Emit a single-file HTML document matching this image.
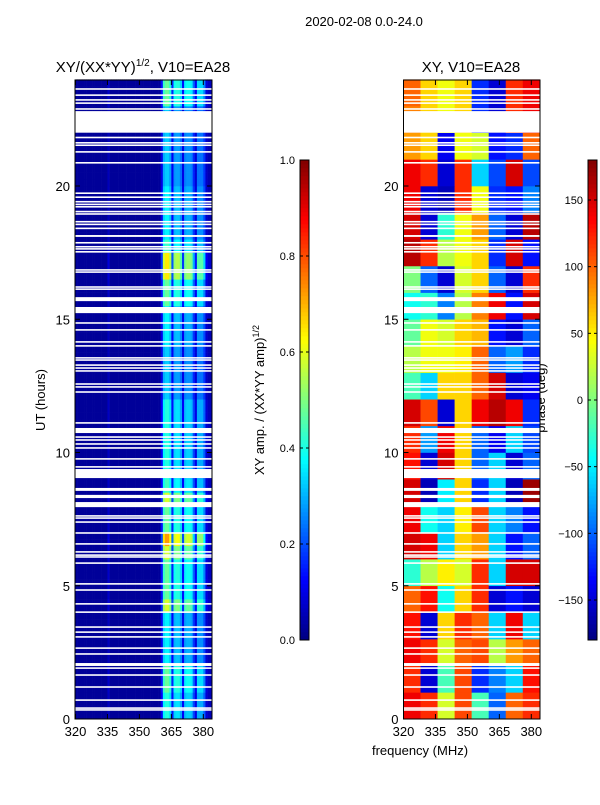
<!DOCTYPE html>
<html><head><meta charset="utf-8"><style>
body{margin:0;background:#fff;width:600px;height:800px;overflow:hidden}
svg text{font-family:"Liberation Sans","DejaVu Sans",sans-serif;fill:#000}
</style></head><body>
<svg id="fig" width="600" height="800" viewBox="0 0 600 800" xmlns="http://www.w3.org/2000/svg">
<rect width="600" height="800" fill="#fff"/>
<text x="364" y="26" font-size="13" text-anchor="middle">2020-02-08 0.0-24.0</text>
<text x="143" y="72" font-size="15" text-anchor="middle">XY/(XX*YY)<tspan font-size="10" dy="-6">1/2</tspan><tspan dy="6">, V10=EA28</tspan></text>
<text x="471" y="72" font-size="15" text-anchor="middle">XY, V10=EA28</text>
<text x="420" y="755" font-size="13" text-anchor="middle">frequency (MHz)</text>
<text transform="translate(45,400) rotate(-90)" font-size="13" text-anchor="middle">UT (hours)</text>
<text transform="translate(264,400) rotate(-90)" font-size="13" text-anchor="middle">XY amp. / (XX*YY amp)<tspan font-size="9" dy="-5">1/2</tspan></text>
<text transform="translate(545,398) rotate(-90)" font-size="13" text-anchor="middle">phase (deg)</text>
<g id="left"></g>
<g id="right"></g>
<g id="axes"></g>
</svg>
<script>
// ---- data ----
const hourTicks=[0,5,10,15,20];
const freqTicks=[320,335,350,365,380];
const ampTicks=[0.0,0.2,0.4,0.6,0.8,1.0];
const phaseTicks=[-150,-100,-50,0,50,100,150];
// amplitude per 1 MHz channel (320..383): band weights
const chanWeight=[0,0,0,0,0,0,0,0,0,0,0,0,0,0,0,0.1,0,0,0,0,0,0,0,0,0,0,0,0,0,0,0,0,0,0,0,0,0,0,0,0,
 0.25,0.9,1.0,1.0,0.85,0.3,0.8,0.85,0.85,0.7,0.25,0.75,0.8,0.8,0.75,0.45,0.2,0.7,0.7,0.7,0.5,0.15,0.08,0.08];
// band amplitude per 0.5 h (0..24)
const rowAmp=[0.38,0.38,0.45,0.45,0.34,0.34,0.34,0.34,0.56,0.45,0.45,0.45,0.56,0.7,0.45,0.45,
 0.56,0.41,0.38,0.38,0.38,0.38,0.38,0.38,0.3,0.3,0.3,0.3,0.34,0.34,0.34,0.45,0.45,0.62,0.62,0.41,
 0.34,0.34,0.34,0.34,0.3,0.3,0.3,0.3,0.3,0.3,0.45,0.45];
// flagged time ranges (hours)
const gaps=[[0.31,0.37],[0.38,0.44],[0.68,0.74],[1.17,1.23],[1.62,1.68],[1.88,1.94],[1.99,2.1],[2.41,2.47],[2.63,2.69],
[3.05,3.11],[3.23,3.29],[3.42,3.48],[3.98,4.04],[4.29,4.35],[4.81,4.87],[5.04,5.1],[5.82,5.88],[6.05,6.11],[6.12,6.18],
[6.24,6.3],[6.54,6.6],[6.95,7.01],[7.36,7.42],[7.51,7.57],[7.59,7.65],[7.95,8.14],[8.29,8.41],[8.56,8.67],[9.04,9.38],
[9.43,9.49],[9.73,9.79],[10.14,10.2],[10.29,10.35],[10.44,10.5],[10.55,10.61],[10.73,10.92],[11.08,11.14],[12.24,12.3],
[12.43,12.49],[12.54,12.6],[13.03,13.09],[13.14,13.2],[13.25,13.31],[13.44,13.5],[13.52,13.58],[13.97,14.03],[14.12,14.18],
[14.57,14.63],[14.83,14.89],[15.23,15.46],[15.68,15.83],[16.1,16.16],[16.18,16.24],[16.74,16.8],[16.82,16.88],[17.5,17.56],
[17.61,17.67],[17.69,17.75],[17.84,17.9],[18.09,18.16],[18.38,18.44],[18.53,18.59],[18.63,18.69],[18.92,18.98],[19.01,19.07],
[19.19,19.25],[19.28,19.34],[19.38,19.44],[19.55,19.61],[19.7,19.76],[20.84,20.9],[21.25,21.31],[21.5,21.56],[21.59,21.65],
[21.79,21.85],[22.0,22.81],[22.86,22.92],[23.08,23.14],[23.2,23.26],[23.38,23.44],[23.61,23.67]];
// phase (deg) per 1 h row (0..24) x 8 MHz block (320..384)
const phaseGrid=[
[140,120,30,110,-20,-100,100,120],[120,-150,-20,110,-120,-90,-60,130],[140,120,30,100,110,20,80,100],
[130,-150,60,120,100,-60,140,-60],[100,130,-40,60,120,-150,-130,-150],[-30,20,50,30,120,-60,150,150],
[150,140,-60,60,80,-60,-130,-100],[140,-40,-60,50,110,-60,-90,-130],[150,-160,-50,60,-120,-60,-160,170],
[130,-150,150,60,-100,-60,-150,-100],[120,-80,140,60,-100,-140,-60,-110],[150,110,-150,60,140,160,140,-120],
[-20,-60,60,60,100,150,-150,-140],[20,40,40,50,100,-100,-80,-120],[-10,40,30,60,70,-130,-150,-100],
[-40,-30,-90,20,90,140,-130,150],[0,-100,-150,30,60,-100,-150,120],[160,120,20,40,60,-120,150,-130],
[150,-150,-30,40,80,-100,-150,160],[140,-150,-160,120,40,-120,-130,-90],[140,120,-150,120,-60,-110,150,-110],
[80,60,-140,40,30,-130,-120,100],[90,60,40,60,-120,-150,120,140],[100,60,40,60,-120,-150,120,140]];

const NS="http://www.w3.org/2000/svg";
function mk(tag,attrs,parent){const e=document.createElementNS(NS,tag);for(const k in attrs)e.setAttribute(k,attrs[k]);parent.appendChild(e);return e;}
function jet(v){v=Math.max(0,Math.min(1,v));
 const r=Math.max(0,Math.min(1,1.5-Math.abs(4*v-3))),g=Math.max(0,Math.min(1,1.5-Math.abs(4*v-2))),b=Math.max(0,Math.min(1,1.5-Math.abs(4*v-1)));
 return `rgb(${Math.round(r*255)},${Math.round(g*255)},${Math.round(b*255)})`;}
const Y0=719,YS=26.65,FX=2.13;
const yOf=h=>Y0-h*YS;
const xL=f=>75.5+(f-320)*FX, xR=f=>403.5+(f-320)*FX;
const left=document.getElementById('left'),right=document.getElementById('right'),axes=document.getElementById('axes');
mk('rect',{x:75,y:80,width:137,height:639,fill:'#fff'},left);
// left amplitude cells 0.25h x 1MHz
for(let r=0;r<96;r++){const h0=r*0.25;
 for(let c=0;c<chanWeight.length;c++){
  const v=0.025+chanWeight[c]*rowAmp[Math.floor(h0/0.5)];
  const x0=xL(320+c),x1=Math.min(xL(321+c),212);if(x0>=212)continue;
  const e=mk('rect',{x:x0,y:yOf(h0+0.25),width:x1-x0+0.3,height:YS*0.25+0.3,fill:jet(v)},left);
  
  }}
// right phase cells 1h x 8MHz
for(let r=0;r<phaseGrid.length;r++){for(let c=0;c<8;c++){
  const x0=xR(320+c*8),x1=Math.min(xR(328+c*8),540);
  const e=mk('rect',{x:x0,y:yOf(r+1),width:x1-x0+0.3,height:YS+0.3,fill:jet((phaseGrid[r][c]+180)/360)},right);
  
  }}
// gaps
for(const g of gaps){for(const [p,x,w] of [[left,75,137],[right,403.5,136.5]]){
  const e=mk('rect',{x:x,y:yOf(g[1]),width:w,height:(g[1]-g[0])*YS,fill:'#fff'},p);
  
  }}
// axes frames + ticks
for(const [x0,w,xf,nm] of [[75,137,xL,'left'],[403.5,136.5,xR,'right']]){
 const f=mk('rect',{x:x0,y:80,width:w,height:639,fill:'none',stroke:'#000','stroke-width':1},axes);
 
 
 for(const h of hourTicks){const y=yOf(h);
  mk('line',{x1:x0,y1:y,x2:x0+5,y2:y,stroke:'#000'},axes);mk('line',{x1:x0+w,y1:y,x2:x0+w-5,y2:y,stroke:'#000'},axes);
  const t=mk('text',{x:x0-5,y:y+5,'font-size':13,'text-anchor':'end'},axes);t.textContent=h;
  
  }
 for(const fq of freqTicks){const x=xf(fq);
  mk('line',{x1:x,y1:719,x2:x,y2:714,stroke:'#000'},axes);mk('line',{x1:x,y1:80,x2:x,y2:85,stroke:'#000'},axes);
  const t=mk('text',{x:x,y:736,'font-size':13,'text-anchor':'middle'},axes);t.textContent=fq;
  
  }}
// colorbars
function cbar(x,ticks,lo,hi,fmt,nm){
 for(let i=0;i<120;i++){mk('rect',{x:x,y:640-(i+1)*4,width:9,height:4.3,fill:jet((i+0.5)/120)},axes);}
 const b=mk('rect',{x:x,y:160,width:9,height:480,fill:'none',stroke:'#000'},axes);
 
 
 for(const v of ticks){const y=640-(v-lo)/(hi-lo)*480;
  mk('line',{x1:x,y1:y,x2:x+3,y2:y,stroke:'#000'},axes);mk('line',{x1:x+9,y1:y,x2:x+6,y2:y,stroke:'#000'},axes);
  const t=mk('text',{x:x-5,y:y+4,'font-size':11,'text-anchor':'end'},axes);t.textContent=fmt(v);
  
  }}
cbar(300,ampTicks,0,1,v=>v.toFixed(1),'amp-colorbar');
cbar(588,phaseTicks,-180,180,v=>v<0?'\u2212'+(-v):''+v,'phase-colorbar');
</script>
</body></html>
